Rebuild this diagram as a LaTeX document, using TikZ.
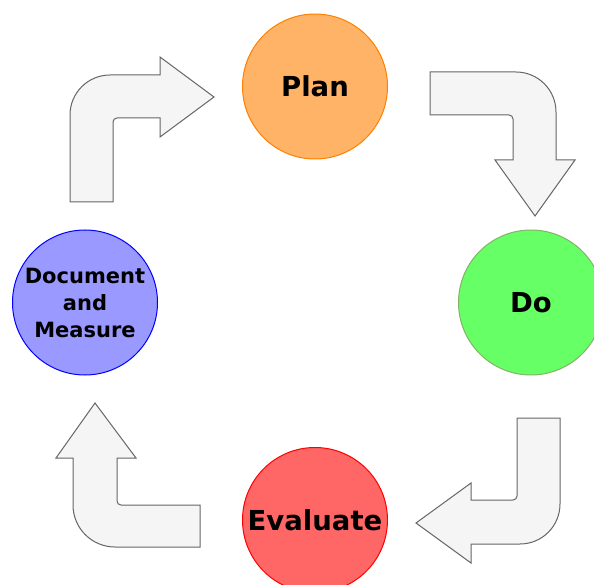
\documentclass[tikz,border=0pt]{standalone}
\usepackage{fontspec}
\setmainfont{DejaVu Sans}
\definecolor{planfill}{HTML}{FFB366}
\definecolor{planline}{HTML}{FF8000}
\definecolor{dofill}{HTML}{66FF66}
\definecolor{doline}{HTML}{82B366}
\definecolor{evfill}{HTML}{FF6666}
\definecolor{evline}{HTML}{FF0000}
\definecolor{docfill}{HTML}{9999FF}
\definecolor{docline}{HTML}{0000FF}
\definecolor{arrfill}{HTML}{F5F5F5}
\definecolor{arrline}{HTML}{666666}
\tikzset{
  stage/.style={circle, minimum size=145pt, inner sep=0pt, line width=1pt, font=\bfseries\fontsize{27.5}{30}\selectfont, align=center},
  bentarrow/.style={fill=arrfill, draw=arrline, line width=1pt, line join=miter}
}
\begin{document}
\begin{tikzpicture}[x=1pt,y=-1pt]
\useasboundingbox (0,0) rectangle (594,585);
\clip (0,0) rectangle (594,585);
\node[stage, fill=planfill, draw=planline] (plan) at (315,86.5) {Plan};
\node[stage, fill=dofill, draw=doline] (do) at (531,302.5) {Do};
\node[stage, fill=evfill, draw=evline] (eval) at (315,520) {Evaluate};
\node[stage, fill=docfill, draw=docline, font=\bfseries\fontsize{21}{27}\selectfont] (doc) at (85,302.5) {Document\\and\\Measure};
% top-left arrow (to Plan)
\draw[bentarrow] (70,202) -- (70,115) .. controls (70,92.9) and (87.9,75) .. (110,75) -- (160,75) -- (160,57) -- (214,97) -- (160,137) -- (160,118) -- (117,118) .. controls (114.8,118) and (113,119.8) .. (113,122) -- (113,202) -- cycle;
% top-right arrow (to Do)
\draw[bentarrow] (430,72) -- (516,72) .. controls (538.1,72) and (556,89.9) .. (556,112) -- (556,160) -- (575,160) -- (535,216) -- (495,160) -- (513,160) -- (513,119) .. controls (513,116.8) and (511.2,115) .. (509,115) -- (430,115) -- cycle;
% bottom-right arrow (to Evaluate)
\draw[bentarrow] (517,418) -- (560,418) -- (560,504) .. controls (560,526.1) and (542.1,544) .. (520,544) -- (471,544) -- (471,563) -- (416,523) -- (471,483) -- (471,500) -- (513,500) .. controls (515.2,500) and (517,498.2) .. (517,496) -- cycle;
% bottom-left arrow (to Document)
\draw[bentarrow] (200,505) -- (200,547) -- (115,547) .. controls (91.8,547) and (73,528.2) .. (73,505) -- (73,458) -- (56,458) -- (95,403) -- (136,458) -- (117,458) -- (117,501) .. controls (117,503.2) and (118.8,505) .. (121,505) -- cycle;
\end{tikzpicture}
\end{document}
